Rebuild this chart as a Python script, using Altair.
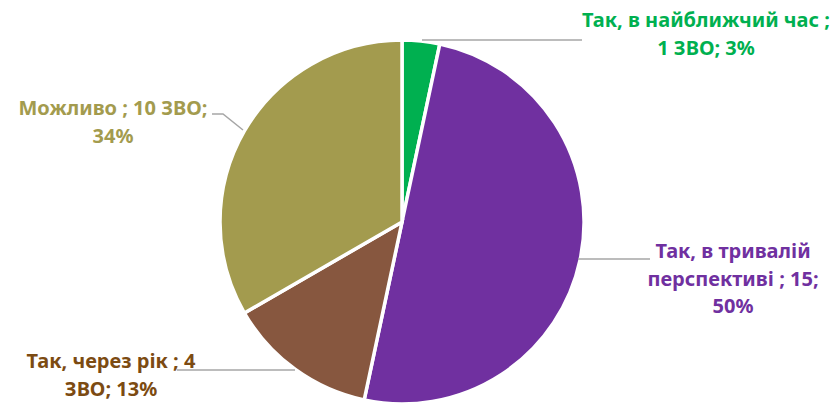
import altair as alt
import pandas as pd

# ---- data ----
categories = [
    "Так, в найближчий час",
    "Так, в тривалій перспективі",
    "Так, через рік",
    "Можливо",
]
values = [1, 15, 4, 10]
label_texts = [
    "Так, в найближчий час ;\n1 ЗВО; 3%",
    "Так, в тривалій\nперспективі ; 15;\n50%",
    "Так, через рік ; 4\nЗВО; 13%",
    "Можливо ; 10 ЗВО;\n34%",
]

# ---- styles ----
slice_colors = ["#00B050", "#7030A0", "#87573F", "#A39B4E"]
label_colors = ["#00B050", "#7030A0", "#7C4B12", "#A39B4E"]

# ---- layout (plot-area pixels) ----
CX, CY, R = 394, 214, 182
label_x = [698, 725, 103, 105]
label_y = [19, 250, 360, 107]
leader_lines = [
    [(414, 32), (574, 32)],
    [(570, 251), (642, 251)],
    [(169, 362), (287, 362)],
    [(204, 106), (215, 106), (235, 122)],
]

pie_df = pd.DataFrame({
    "category": categories,
    "value": values,
    "idx": list(range(len(categories))),
})

label_df = pd.DataFrame({
    "text": label_texts,
    "lcolor": label_colors,
    "lx": label_x,
    "ly": label_y,
})

rows = []
for g, pts in enumerate(leader_lines):
    for k, (px, py) in enumerate(pts):
        rows.append({"g": g, "k": k, "px": px, "py": py})
leader_df = pd.DataFrame(rows)

pie = alt.Chart(pie_df).mark_arc(
    radius=R, stroke="white", strokeWidth=3.5
).encode(
    theta=alt.Theta("value:Q", stack=True),
    order=alt.Order("idx:Q"),
    color=alt.Color(
        "category:N",
        scale=alt.Scale(domain=categories, range=slice_colors),
        legend=None,
    ),
    x=alt.value(CX),
    y=alt.value(CY),
)

leaders = alt.Chart(leader_df).mark_line(
    color="#A6A6A6", strokeWidth=1.5
).encode(
    x=alt.X("px:Q", scale=None),
    y=alt.Y("py:Q", scale=None),
    detail="g:N",
    order="k:Q",
)

labels = alt.Chart(label_df).mark_text(
    font="Noto Sans",
    fontSize=20,
    fontWeight="bold",
    align="center",
    baseline="alphabetic",
    lineBreak="\n",
    lineHeight=27.5,
).encode(
    x=alt.X("lx:Q", scale=None),
    y=alt.Y("ly:Q", scale=None),
    text="text:N",
    color=alt.Color("lcolor:N", scale=None),
)

chart = alt.layer(pie, leaders, labels).properties(
    width=824, height=397, padding=0, autosize="none"
).configure_view(stroke=None)

chart.save("out.html", embed_options={"renderer": "svg", "actions": False})
